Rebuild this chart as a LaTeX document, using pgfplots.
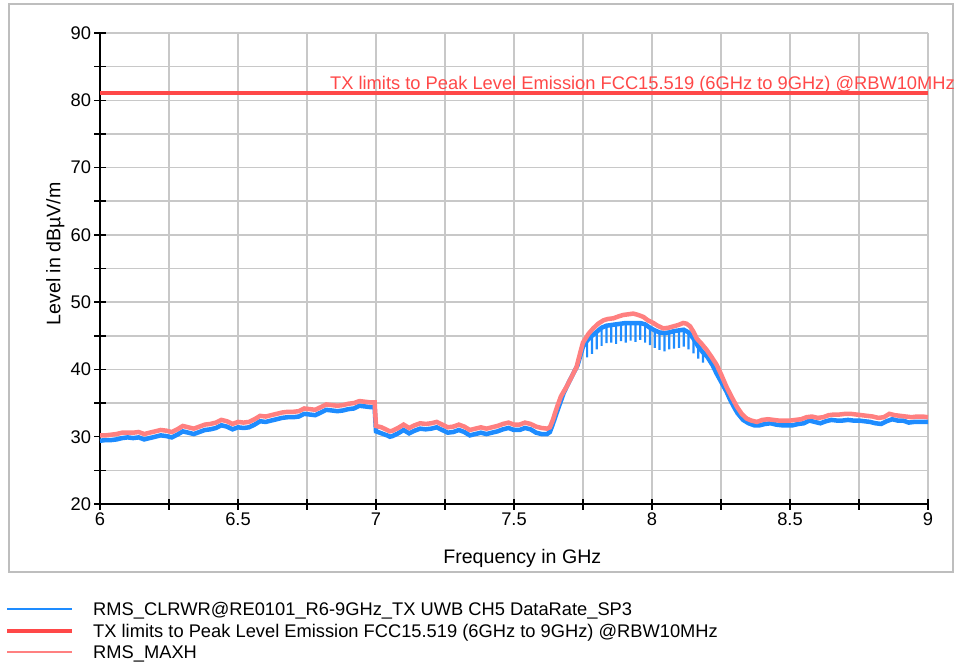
\documentclass[border=0pt]{standalone}
\usepackage{fontspec}
\setmainfont{Liberation Sans}
\usepackage{pgfplots}
\pgfplotsset{compat=1.18}

\definecolor{rmsblue}{RGB}{30,140,255}
\definecolor{maxpink}{RGB}{255,128,128}
\definecolor{limred}{RGB}{255,72,72}
\definecolor{gridgray}{RGB}{200,200,200}
\definecolor{framegray}{RGB}{190,190,190}

\newcommand{\chartfont}{\fontsize{18.3}{21}\selectfont}
\newcommand{\labelfont}{\fontsize{19.6}{23}\selectfont}

\begin{document}
\begin{tikzpicture}
\useasboundingbox (0pt,0pt) rectangle (958pt,-667pt);
\draw[framegray, line width=1.5pt] (9pt,-4pt) rectangle (953pt,-572pt);

\begin{axis}[
    at={(100pt,-504pt)}, anchor=south west,
    scale only axis, width=828pt, height=471pt,
    xmin=6, xmax=9, ymin=20, ymax=90,
    xtick={6,6.5,...,9}, minor xtick={6.25,6.75,...,8.75},
    ytick={20,30,...,90}, minor ytick={25,35,...,85},
    xticklabels={6,6.5,7,7.5,8,8.5,9},
    axis x line*=bottom, axis y line*=left,
    axis line style={black, line width=1.5pt, -},
    tick align=center,
    major tick length=11pt, minor tick length=11pt,
    every tick/.style={black, line width=1.5pt},
    grid=both,
    major grid style={gridgray, line width=1.5pt},
    minor grid style={gridgray, line width=1.5pt},
    tick label style={font=\chartfont},
    /pgf/number format/assume math mode=true,
    xlabel={Frequency in GHz},
    ylabel={Level in dBµV/m},
    label style={font=\labelfont},
    xlabel style={at={(axis description cs:0.51,-0.115)}, anchor=center},
    ylabel style={at={(axis description cs:-0.054,0.531)}, anchor=center},
    clip=false,
    legend cell align=left,
    legend image code/.code={\draw[#1] (0pt,0pt) -- (65pt,0pt);},
    legend style={draw=none, fill=none, at={(axis description cs:-0.1147,-0.2001)},
        anchor=north west, inner sep=0pt, row sep=0pt, font=\chartfont,
        nodes={inner xsep=3pt, inner ysep=1.25pt, text height=16pt, text depth=3pt},
        /tikz/every odd column/.style={column sep=16pt}},
]

% RMS clear/write trace
\addplot[rmsblue, line width=4.5pt, legend image post style={line width=2pt}] coordinates {
(6.00,29.4)(6.02,29.5)(6.04,29.5)(6.06,29.6)(6.08,29.8)(6.10,29.9)(6.12,29.8)(6.14,29.9)
(6.16,29.6)(6.18,29.8)(6.20,30.0)(6.22,30.2)(6.24,30.1)(6.26,29.9)(6.28,30.3)(6.30,30.8)
(6.32,30.6)(6.34,30.4)(6.36,30.7)(6.38,31.0)(6.40,31.1)(6.42,31.3)(6.44,31.7)(6.46,31.5)
(6.48,31.1)(6.50,31.4)(6.52,31.3)(6.54,31.4)(6.56,31.8)(6.58,32.3)(6.60,32.2)(6.62,32.4)
(6.64,32.6)(6.66,32.8)(6.68,32.9)(6.70,32.9)(6.72,33.0)(6.74,33.4)(6.76,33.3)(6.78,33.2)
(6.80,33.6)(6.82,34.0)(6.84,33.9)(6.86,33.8)(6.88,33.9)(6.90,34.1)(6.92,34.2)(6.94,34.6)
(6.96,34.5)(6.98,34.4)(6.995,34.4)(7.000,30.8)(7.02,30.5)(7.04,30.2)(7.05,30.0)(7.06,30.1)
(7.08,30.5)(7.10,31.0)(7.12,30.5)(7.14,30.9)(7.16,31.2)(7.18,31.1)(7.20,31.2)(7.22,31.4)
(7.24,31.0)(7.26,30.6)(7.28,30.7)(7.30,31.0)(7.32,30.7)(7.34,30.2)(7.36,30.4)(7.38,30.6)
(7.40,30.4)(7.42,30.6)(7.44,30.8)(7.46,31.1)(7.48,31.3)(7.50,31.0)(7.52,31.0)(7.54,31.3)
(7.56,31.1)(7.58,30.6)(7.60,30.4)(7.62,30.4)(7.63,30.7)(7.64,31.8)(7.655,33.6)(7.68,36.5)
(7.70,38.2)(7.73,40.6)(7.75,43.4)(7.765,44.3)(7.7825,45.0)(7.80,45.6)(7.8175,46.2)
(7.835,46.5)(7.8525,46.6)(7.87,46.7)(7.8875,46.8)(7.905,46.9)(7.9225,46.9)(7.94,46.9)
(7.9575,46.9)(7.975,46.7)(7.9925,46.2)(8.01,45.8)(8.0275,45.5)(8.045,45.4)(8.0625,45.5)
(8.08,45.7)(8.0975,45.8)(8.115,45.9)(8.1325,45.5)(8.15,44.6)(8.1675,43.4)(8.185,42.5)
(8.20,41.9)(8.22,40.6)(8.234,39.4)(8.25,38.2)(8.27,36.7)(8.283,35.5)(8.30,34.2)(8.31,33.5)
(8.33,32.5)(8.35,32.0)(8.37,31.7)(8.39,31.7)(8.41,31.9)(8.43,32.0)(8.45,31.8)(8.47,31.7)
(8.49,31.7)(8.51,31.7)(8.53,31.9)(8.55,32.0)(8.57,32.4)(8.59,32.2)(8.61,32.0)(8.63,32.3)
(8.65,32.5)(8.67,32.4)(8.69,32.4)(8.71,32.5)(8.73,32.4)(8.75,32.4)(8.77,32.3)(8.79,32.2)
(8.81,32.0)(8.83,31.9)(8.85,32.3)(8.87,32.6)(8.89,32.4)(8.91,32.4)(8.93,32.1)(8.95,32.2)
(8.97,32.2)(9.00,32.2)
};
\addlegendentry{RMS\_CLRWR@RE0101\_R6-9GHz\_TX UWB CH5 DataRate\_SP3}

% comb dips of the same trace in the band
\addplot[rmsblue, line width=2.2pt, forget plot] coordinates {
(7.765,44.3)(7.765,41.8)(7.765,44.3)(7.7825,45.0)(7.7825,42.3)(7.7825,45.0)
(7.800,45.6)(7.800,43.0)(7.800,45.6)(7.8175,46.2)(7.8175,43.5)(7.8175,46.2)
(7.835,46.5)(7.835,43.9)(7.835,46.5)(7.8525,46.6)(7.8525,44.0)(7.8525,46.6)
(7.870,46.7)(7.870,43.8)(7.870,46.7)(7.8875,46.8)(7.8875,44.2)(7.8875,46.8)
(7.905,46.9)(7.905,44.0)(7.905,46.9)(7.9225,46.9)(7.9225,44.3)(7.9225,46.9)
(7.940,46.9)(7.940,44.1)(7.940,46.9)(7.9575,46.9)(7.9575,44.4)(7.9575,46.9)
(7.975,46.7)(7.975,44.0)(7.975,46.7)(7.9925,46.2)(7.9925,43.6)(7.9925,46.2)
(8.010,45.8)(8.010,43.2)(8.010,45.8)(8.0275,45.5)(8.0275,42.9)(8.0275,45.5)
(8.045,45.4)(8.045,42.7)(8.045,45.4)(8.0625,45.5)(8.0625,43.0)(8.0625,45.5)
(8.080,45.7)(8.080,43.1)(8.080,45.7)(8.0975,45.8)(8.0975,43.2)(8.0975,45.8)
(8.115,45.9)(8.115,43.4)(8.115,45.9)(8.1325,45.5)(8.1325,43.0)(8.1325,45.5)
(8.150,44.6)(8.150,42.4)(8.150,44.6)(8.1675,43.4)(8.1675,41.6)(8.1675,43.4)
(8.185,42.5)(8.185,41.0)(8.185,42.5)
};

% limit line
\addplot[limred, line width=3.5pt, legend image post style={line width=4pt}] coordinates {(6,81.1) (9,81.1)};
\addlegendentry{TX limits to Peak Level Emission FCC15.519 (6GHz to 9GHz) @RBW10MHz}

% max hold trace
\addplot[maxpink, line width=4.5pt, legend image post style={line width=2pt}] coordinates {
(6.00,30.2)(6.02,30.2)(6.04,30.3)(6.06,30.4)(6.08,30.6)(6.10,30.6)(6.12,30.6)(6.14,30.7)
(6.16,30.4)(6.18,30.6)(6.20,30.8)(6.22,31.0)(6.24,30.9)(6.26,30.7)(6.28,31.1)(6.30,31.6)
(6.32,31.4)(6.34,31.2)(6.36,31.5)(6.38,31.8)(6.40,31.9)(6.42,32.1)(6.44,32.5)(6.46,32.3)
(6.48,31.9)(6.50,32.2)(6.52,32.1)(6.54,32.2)(6.56,32.6)(6.58,33.1)(6.60,33.0)(6.62,33.2)
(6.64,33.4)(6.66,33.6)(6.68,33.7)(6.70,33.7)(6.72,33.8)(6.74,34.2)(6.76,34.1)(6.78,34.0)
(6.80,34.4)(6.82,34.8)(6.84,34.7)(6.86,34.6)(6.88,34.7)(6.90,34.9)(6.92,35.0)(6.94,35.3)
(6.96,35.2)(6.98,35.1)(6.995,35.1)(7.000,31.6)(7.02,31.4)(7.04,31.0)(7.05,30.8)(7.06,30.9)
(7.08,31.3)(7.10,31.8)(7.12,31.3)(7.14,31.7)(7.16,32.0)(7.18,31.9)(7.20,32.0)(7.22,32.2)
(7.24,31.8)(7.26,31.4)(7.28,31.5)(7.30,31.8)(7.32,31.5)(7.34,31.0)(7.36,31.2)(7.38,31.4)
(7.40,31.2)(7.42,31.4)(7.44,31.6)(7.46,31.9)(7.48,32.1)(7.50,31.8)(7.52,31.8)(7.54,32.1)
(7.56,31.9)(7.58,31.5)(7.60,31.3)(7.62,31.2)(7.63,31.4)(7.64,32.4)(7.655,34.3)(7.67,36.0)
(7.69,37.4)(7.71,39.0)(7.727,40.4)(7.74,42.5)(7.75,44.0)(7.77,45.3)(7.787,46.1)(7.805,46.8)
(7.824,47.3)(7.84,47.5)(7.86,47.6)(7.88,47.9)(7.896,48.1)(7.915,48.2)(7.932,48.3)(7.95,48.1)
(7.969,47.8)(7.985,47.3)(8.005,46.9)(8.02,46.5)(8.041,46.1)(8.06,46.2)(8.077,46.4)(8.095,46.6)
(8.113,46.9)(8.125,46.8)(8.138,46.4)(8.15,45.6)(8.162,44.6)(8.18,43.8)(8.198,42.9)(8.215,41.9)
(8.234,40.7)(8.25,39.3)(8.27,37.4)(8.29,35.8)(8.307,34.5)(8.325,33.4)(8.343,32.7)(8.36,32.4)
(8.38,32.2)(8.40,32.5)(8.42,32.6)(8.44,32.5)(8.46,32.4)(8.48,32.4)(8.50,32.4)(8.52,32.5)
(8.54,32.6)(8.56,32.9)(8.58,33.0)(8.60,32.8)(8.62,32.9)(8.64,33.2)(8.66,33.3)(8.68,33.3)
(8.70,33.4)(8.72,33.4)(8.74,33.3)(8.76,33.2)(8.78,33.1)(8.80,33.0)(8.82,32.8)(8.84,32.9)
(8.86,33.4)(8.88,33.2)(8.90,33.1)(8.92,33.0)(8.94,32.9)(8.96,33.0)(8.98,33.0)(9.00,32.9)
};
\addlegendentry{RMS\_MAXH}

\node[anchor=base east, text=limred, font=\chartfont, inner sep=0pt]
    at (axis cs:9.098,81.57) {TX limits to Peak Level Emission FCC15.519 (6GHz to 9GHz) @RBW10MHz};
\end{axis}
\end{tikzpicture}
\end{document}
